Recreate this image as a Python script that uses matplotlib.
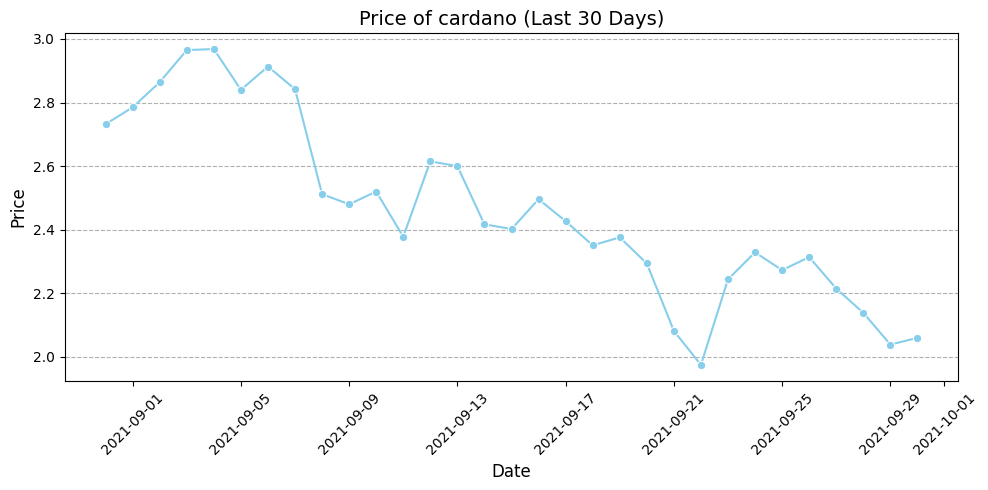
import matplotlib
matplotlib.use("Agg")
import matplotlib.pyplot as plt
import pandas as pd
import seaborn as sns

dates = pd.date_range("2021-08-31", "2021-09-30", freq="D")
prices = [2.732, 2.785, 2.864, 2.965, 2.968, 2.840, 2.913, 2.842, 2.512, 2.480,
          2.520, 2.378, 2.615, 2.600, 2.417, 2.402, 2.496, 2.427, 2.351, 2.376,
          2.294, 2.082, 1.975, 2.244, 2.329, 2.273, 2.314, 2.215, 2.139, 2.039,
          2.060]

df = pd.DataFrame({"Date": dates, "Price": prices})

fig, ax = plt.subplots(figsize=(9.88, 4.9), dpi=100)
sns.lineplot(data=df, x="Date", y="Price", marker="o", color="skyblue", ax=ax)
ax.set_title("Price of cardano (Last 30 Days)", fontsize=14)
ax.set_xlabel("Date", fontsize=12)
ax.set_ylabel("Price", fontsize=12)
ax.grid(axis="y", linestyle="--")
plt.xticks(rotation=45)
fig.subplots_adjust(left=65/988, right=958/988, top=1-33.3/490, bottom=1-380.7/490)
fig.savefig("out.png", dpi=100)
